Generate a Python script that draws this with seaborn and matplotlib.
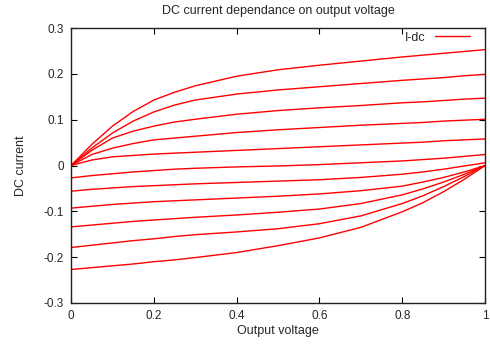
import numpy as np
import pandas as pd
import seaborn as sns
import matplotlib
matplotlib.use("Agg")
import matplotlib.pyplot as plt
from matplotlib.lines import Line2D

# output voltage sample points
voltage = [0, 0.05, 0.1, 0.15, 0.2, 0.25, 0.3, 0.4, 0.5, 0.6, 0.7, 0.8, 0.85, 0.9, 0.95, 1.0]

# DC current curves, top to bottom
curva_a = [0, 0.046, 0.086, 0.118, 0.143, 0.160, 0.174, 0.195, 0.209, 0.219, 0.228, 0.237, 0.241, 0.245, 0.249, 0.253]
curva_b = [0, 0.038, 0.071, 0.097, 0.117, 0.132, 0.143, 0.156, 0.165, 0.172, 0.179, 0.186, 0.189, 0.192, 0.196, 0.199]
curva_c = [0, 0.033, 0.060, 0.075, 0.086, 0.095, 0.101, 0.112, 0.120, 0.126, 0.131, 0.137, 0.139, 0.142, 0.145, 0.147]
curva_d = [0, 0.024, 0.038, 0.048, 0.056, 0.060, 0.064, 0.072, 0.078, 0.083, 0.088, 0.092, 0.094, 0.097, 0.099, 0.101]
curva_e = [0, 0.012, 0.019, 0.022, 0.025, 0.027, 0.029, 0.033, 0.037, 0.041, 0.045, 0.049, 0.051, 0.054, 0.056, 0.058]
curva_f = [-0.027, -0.022, -0.018, -0.014, -0.011, -0.008, -0.006, -0.003, -0.001, 0.002, 0.006, 0.010, 0.013, 0.016, 0.020, 0.024]
curva_g = [-0.056, -0.052, -0.049, -0.046, -0.044, -0.042, -0.040, -0.037, -0.034, -0.031, -0.026, -0.019, -0.014, -0.008, -0.001, 0.006]
curva_h = [-0.093, -0.089, -0.085, -0.082, -0.079, -0.077, -0.075, -0.071, -0.067, -0.062, -0.055, -0.045, -0.036, -0.026, -0.014, 0.0]
curva_i = [-0.134, -0.130, -0.126, -0.122, -0.119, -0.116, -0.113, -0.108, -0.102, -0.095, -0.083, -0.064, -0.051, -0.036, -0.019, 0.0]
curva_j = [-0.179, -0.174, -0.169, -0.164, -0.160, -0.155, -0.151, -0.145, -0.138, -0.127, -0.110, -0.083, -0.066, -0.046, -0.024, 0.0]
curva_k = [-0.227, -0.223, -0.219, -0.215, -0.210, -0.206, -0.201, -0.190, -0.175, -0.158, -0.135, -0.101, -0.081, -0.057, -0.030, 0.0]

curvas = [curva_a, curva_b, curva_c, curva_d, curva_e, curva_f,
          curva_g, curva_h, curva_i, curva_j, curva_k]

xticks = [0, 0.2, 0.4, 0.6, 0.8, 1.0]
xticklabels = ["0", "0.2", "0.4", "0.6", "0.8", "1"]
yticks = [-0.3, -0.2, -0.1, 0, 0.1, 0.2, 0.3]
yticklabels = ["-0.3", "-0.2", "-0.1", "0", "0.1", "0.2", "0.3"]

# long-form table, one "unit" per curve
filas = []
for n, curva in enumerate(curvas):
    for v, i in zip(voltage, curva):
        filas.append({"curva": n, "V": v, "I": i})
df = pd.DataFrame(filas)

sns.set_style("ticks")
plt.rcParams["font.family"] = ["Liberation Sans", "DejaVu Sans"]
plt.rcParams["xtick.direction"] = "in"
plt.rcParams["ytick.direction"] = "in"

fig = plt.figure(figsize=(4.9, 3.47), dpi=100)
ax = fig.add_axes([0.145, 0.127, 0.845, 0.792])

sns.lineplot(data=df, x="V", y="I", units="curva", estimator=None,
             color="red", linewidth=1.0, ax=ax, legend=False)

ax.set_xlim(0, 1)
ax.set_ylim(-0.3, 0.3)
ax.set_xticks(xticks)
ax.set_xticklabels(xticklabels)
ax.set_yticks(yticks)
ax.set_yticklabels(yticklabels)
ax.tick_params(axis="both", labelsize=8.5, length=4, width=0.8, color="black",
               top=True, right=True)
ax.tick_params(axis="x", pad=5)
ax.tick_params(axis="y", pad=5)
for s in ax.spines.values():
    s.set_visible(True)
    s.set_linewidth(1.0)
    s.set_color("#222222")

ax.set_xlabel("Output voltage", fontsize=9, labelpad=2)
ax.set_ylabel("DC current", fontsize=9, labelpad=12)
ax.set_title("DC current dependance on output voltage", fontsize=9, pad=10)

handle = Line2D([], [], color="red", linewidth=1.0)
ax.legend([handle], ["I-dc"], loc="upper right", frameon=False, fontsize=9,
          markerfirst=False, handlelength=2.8, borderaxespad=0.0,
          bbox_to_anchor=(0.975, 1.005), handletextpad=0.7)

fig.savefig("out.png", dpi=100)
